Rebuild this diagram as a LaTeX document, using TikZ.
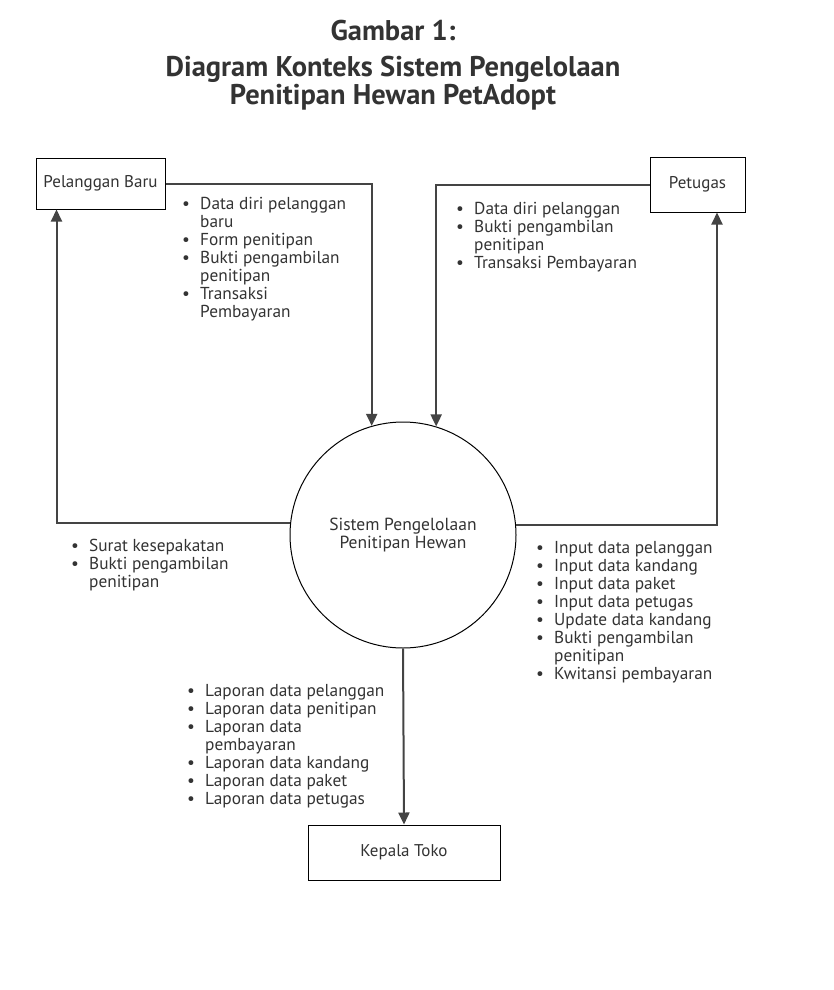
\documentclass[tikz,border=0pt]{standalone}
\usepackage{fontspec}
\setmainfont{PT Sans}
\usetikzlibrary{arrows.meta}
\definecolor{txt}{HTML}{333333}
\definecolor{ln}{HTML}{444444}
\newcommand\itm[1]{\makebox[18pt][l]{\textbullet}#1}
\newcommand\cnt[1]{\hspace*{18pt}#1}
\tikzset{
  ent/.style={draw=black, line width=1pt, fill=white, inner sep=0pt, text=txt,
    font=\fontsize{17}{18}\selectfont},
  proc/.style={draw=black, line width=1pt, circle, inner sep=0pt, minimum size=226pt,
    align=center, text=txt, font=\fontsize{17.5}{18}\selectfont},
  flow/.style={draw=ln, line width=2pt, -{Triangle[length=12pt,width=11pt]}},
  lst/.style={anchor=north west, inner sep=0pt, align=left, text=txt,
    font=\fontsize{17.3}{18}\selectfont},
  ttl/.style={text=txt, font=\bfseries\fontsize{28.5}{28}\selectfont, align=center}
}
\begin{document}
\begin{tikzpicture}[x=1pt,y=-1pt]
\useasboundingbox (0,0) rectangle (833,990);
\node[ttl] (t1) at (393,31) {Gambar 1:};
\node[ttl] (t2) at (393,83) {Diagram Konteks Sistem Pengelolaan\\Penitipan Hewan PetAdopt};

\node[ent, minimum width=129pt, minimum height=51pt] (pb) at (100.5,183.5) {Pelanggan Baru};
\node[ent, minimum width=95pt, minimum height=55pt] (pet) at (697.5,184.5) {Petugas};
\node[ent, minimum width=192pt, minimum height=55pt] (kt) at (404,852.5) {Kepala Toko};
\node[proc] (sys) at (403,535) {Sistem Pengelolaan\\Penitipan Hewan};

\draw[flow] (pb.east) -| (sys.106.5);
\draw[flow] (pet.west) -| (sys.73.5);
\draw[flow] (sys.174.4) -| ([xshift=21pt]pb.south west);
\draw[flow] (sys.5.6) -| ([xshift=19.5pt]pet.south);
\draw[flow] (sys.south) -- (kt.north);

\node[lst] (l1) at (182,197.5) {\itm{Data diri pelanggan}\\\cnt{baru}\\\itm{Form penitipan}\\\itm{Bukti pengambilan}\\\cnt{penitipan}\\\itm{Transaksi}\\\cnt{Pembayaran}};
\node[lst] (l2) at (456,202.5) {\itm{Data diri pelanggan}\\\itm{Bukti pengambilan}\\\cnt{penitipan}\\\itm{Transaksi Pembayaran}};
\node[lst] (l3) at (71,538.5) {\itm{Surat kesepakatan}\\\itm{Bukti pengambilan}\\\cnt{penitipan}};
\node[lst] (l4) at (536,541.5) {\itm{Input data pelanggan}\\\itm{Input data kandang}\\\itm{Input data paket}\\\itm{Input data petugas}\\\itm{Update data kandang}\\\itm{Bukti pengambilan}\\\cnt{penitipan}\\\itm{Kwitansi pembayaran}};
\node[lst] (l5) at (187,684.5) {\itm{Laporan data pelanggan}\\\itm{Laporan data penitipan}\\\itm{Laporan data}\\\cnt{pembayaran}\\\itm{Laporan data kandang}\\\itm{Laporan data paket}\\\itm{Laporan data petugas}};
\end{tikzpicture}
\end{document}
